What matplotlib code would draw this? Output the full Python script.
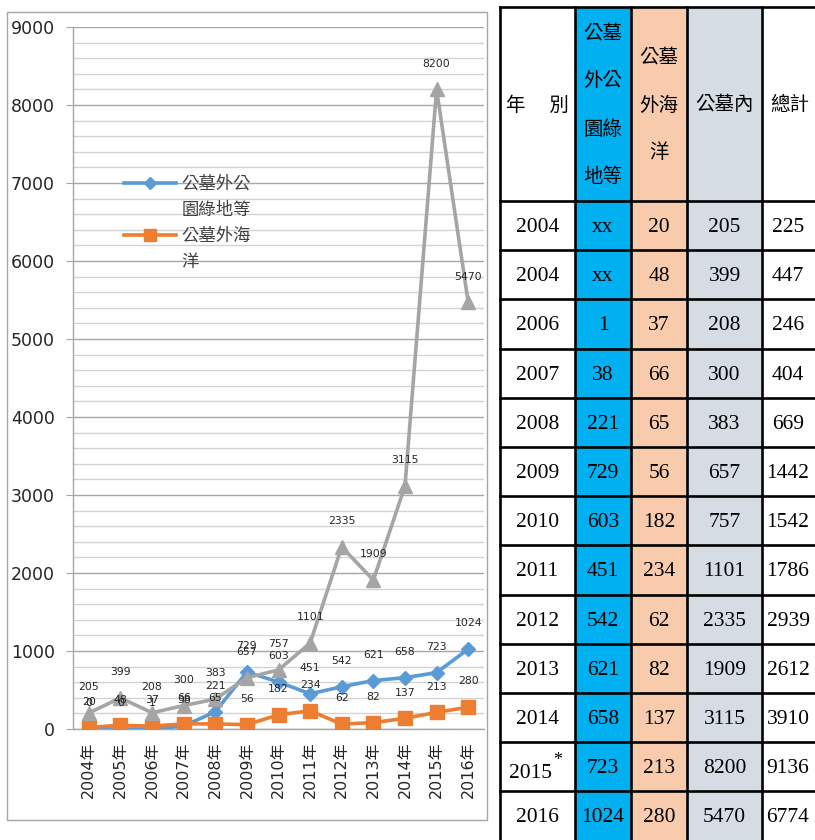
import matplotlib
matplotlib.use("Agg")
import matplotlib.pyplot as plt
from matplotlib.patches import Rectangle
from matplotlib.lines import Line2D
from matplotlib.ticker import MultipleLocator

# ---------------- data ----------------
years = ["2004", "2005", "2006", "2007", "2008", "2009", "2010",
         "2011", "2012", "2013", "2014", "2015", "2016"]
x_labels = [y + "年" for y in years]
park = [0, 0, 1, 38, 221, 729, 603, 451, 542, 621, 658, 723, 1024]
sea = [20, 48, 37, 66, 65, 56, 182, 234, 62, 82, 137, 213, 280]
inside = [205, 399, 208, 300, 383, 657, 757, 1101, 2335, 1909, 3115, 8200, 5470]
series_names = ["公墓外公\n園綠地等", "公墓外海\n洋", "公墓內"]

table_years = ["2004", "2004", "2006", "2007", "2008", "2009", "2010",
               "2011", "2012", "2013", "2014", "2015", "2016"]
table_park = ["xx", "xx", "1", "38", "221", "729", "603", "451", "542",
              "621", "658", "723", "1024"]
totals = [225, 447, 246, 404, 669, 1442, 1542, 1786, 2939, 2612, 3910, 9136, 6774]
table_headers = ["年　 別", "公墓\n外公\n園綠\n地等", "公墓\n外海\n洋", "公墓內", "總計"]
starred_year = "2015"

# ---------------- style ----------------
W, H = 815, 840
fig = plt.figure(figsize=(W / 100, H / 100), dpi=100)
fig.patch.set_facecolor("white")

C_BLUE = "#5B9BD5"
C_ORANGE = "#ED7D31"
C_GRAY = "#A5A5A5"
CJK = ["Noto Sans CJK TC", "DejaVu Sans"]
MIX = ["DejaVu Sans", "Noto Sans CJK TC"]
SERIF = ["Liberation Serif", "Noto Sans CJK TC"]


def px(x0, y0, x1, y1):
    return [x0 / W, 1 - y1 / H, (x1 - x0) / W, (y1 - y0) / H]


# chart frame
fig.add_artist(Rectangle((7 / W, 1 - 820 / H), 480 / W, 808 / H,
                         transform=fig.transFigure, fill=False,
                         edgecolor="#A6A6A6", lw=1.0))

ax = fig.add_axes(px(73, 27, 484, 729))
xs = list(range(len(years)))

ax.plot(xs, park, color=C_BLUE, lw=2.6, marker="D", ms=7.5, zorder=3)
ax.plot(xs, sea, color=C_ORANGE, lw=2.6, marker="s", ms=10.5, zorder=4)
ax.plot(xs, inside, color=C_GRAY, lw=2.6, marker="^", ms=10, zorder=5)

for vals in (park, sea, inside):
    for xi, v in zip(xs, vals):
        ax.annotate(str(v), (xi, v), xytext=(0, 18.5), textcoords="offset points",
                    ha="center", va="center", fontsize=7.8, color="#262626",
                    family="DejaVu Sans", zorder=6)

ax.set_xlim(-0.5, len(years) - 0.5)
ax.set_ylim(0, 9000)
ax.yaxis.set_major_locator(MultipleLocator(1000))
ax.yaxis.set_minor_locator(MultipleLocator(200))
ax.grid(which="major", axis="y", color="#A6A6A6", lw=1.0, zorder=0)
ax.grid(which="minor", axis="y", color="#D3D3D3", lw=1.0, zorder=0)
ax.set_axisbelow(True)
ax.set_xticks(xs)
ax.set_xticklabels(x_labels, rotation=90, fontsize=11.5, family=MIX, color="#262626")
ax.tick_params(axis="x", length=0, pad=9)
ax.tick_params(axis="y", which="major", length=5, color="#A6A6A6", pad=8,
               labelsize=12.5, labelcolor="#262626")
ax.tick_params(axis="y", which="minor", length=0)
for s in ("top", "right"):
    ax.spines[s].set_visible(False)
for s in ("left", "bottom"):
    ax.spines[s].set_color("#A6A6A6")
    ax.spines[s].set_linewidth(1.0)

# legend: first line carries the handle
name_lines = [n.split("\n") for n in series_names[:2]]
handles = [
    Line2D([], [], color=C_BLUE, lw=2.6, marker="D", ms=6),
    Line2D([], [], linestyle="none"),
    Line2D([], [], color=C_ORANGE, lw=2.6, marker="s", ms=9),
    Line2D([], [], linestyle="none"),
]
labels = [name_lines[0][0], name_lines[0][1], name_lines[1][0], name_lines[1][1]]
leg = ax.legend(handles, labels, loc="upper left", bbox_to_anchor=(0.124, 0.789),
                frameon=False, borderpad=0, borderaxespad=0, handlelength=3.0,
                handletextpad=0.3, labelspacing=0.45, numpoints=1,
                prop={"family": CJK, "size": 12.5})
for t in leg.get_texts():
    t.set_color("#404040")

# ---------------- table ----------------
tab = fig.add_axes(px(500, 0, 815, 840))
tab.set_xlim(500, 815)
tab.set_ylim(840, 0)
tab.axis("off")

col_edges = [500, 575, 631, 687, 762, 817]
col_colors = ["white", "#00B0F0", "#F8CBAD", "#D6DCE4", "white"]
head_top, head_bot = 7, 201
row_h = 49.2
n_rows = len(table_years)
row_edges = [head_bot + i * row_h for i in range(n_rows + 1)]

for c in range(5):
    tab.add_patch(Rectangle((col_edges[c], head_top), col_edges[c + 1] - col_edges[c],
                            row_edges[-1] - head_top, facecolor=col_colors[c],
                            edgecolor="none", clip_on=False, zorder=1))
# grid lines
for xe in col_edges:
    tab.plot([xe, xe], [head_top, row_edges[-1]], color="black", lw=1.9,
             clip_on=False, zorder=3, solid_capstyle="projecting")
for ye in [head_top] + row_edges:
    tab.plot([col_edges[0], col_edges[-1]], [ye, ye], color="black", lw=1.9,
             clip_on=False, zorder=3, solid_capstyle="projecting")

# header text
head_c = (head_top + head_bot) / 2 + 1
for c, htxt in enumerate(table_headers):
    lines = htxt.split("\n")
    xc = (col_edges[c] + col_edges[c + 1]) / 2
    n = len(lines)
    for i, ln in enumerate(lines):
        yc = head_c + (i - (n - 1) / 2) * 48
        tab.text(xc, yc, ln, ha="center", va="center", fontsize=14,
                 family=CJK, color="black", zorder=4)

# body text
for r in range(n_rows):
    yc = (row_edges[r] + row_edges[r + 1]) / 2 + 2
    cells = [table_years[r], table_park[r], str(sea[r]), str(inside[r]), str(totals[r])]
    for c, val in enumerate(cells):
        xc = (col_edges[c] + col_edges[c + 1]) / 2
        if c == 4:
            xc = 788
        if c == 0 and val == starred_year:
            tab.text(xc - 7, yc + 5, val, ha="center", va="center", fontsize=15.5,
                     family=SERIF, color="black", zorder=4)
            tab.text(xc + 20, yc - 8, "*", ha="center", va="center", fontsize=13,
                     family=SERIF, color="black", zorder=4)
        else:
            tab.text(xc, yc, val, ha="center", va="center", fontsize=15.5,
                     family=SERIF, color="black", zorder=4)

fig.savefig("out.png", dpi=100, facecolor="white")
